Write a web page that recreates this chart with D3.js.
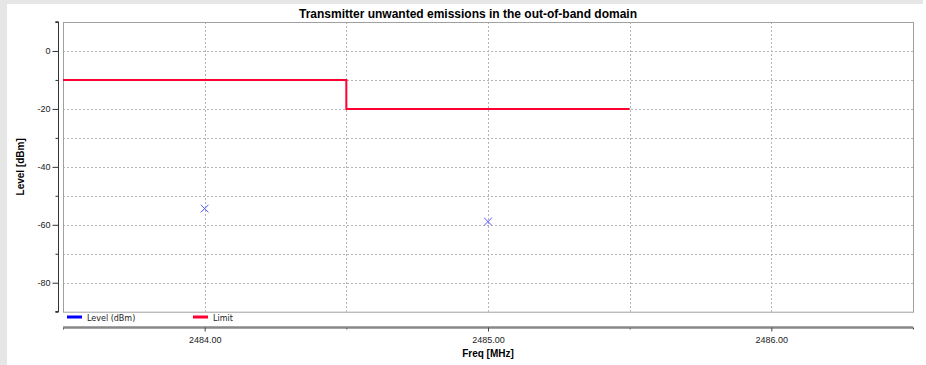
<!DOCTYPE html>
<html>
<head>
<meta charset="utf-8">
<script src="https://cdn.jsdelivr.net/npm/d3@7"></script>
<style>
  html, body { margin: 0; padding: 0; background: #fff; }
  svg { display: block; font-family: "Liberation Sans", Arial, sans-serif; }
</style>
</head>
<body>
<svg id="chart" width="926" height="365"></svg>
<script>
// Measured emission levels (dBm) at each frequency (MHz)
const levelFreqs = [2484.0, 2485.0];
const levelValues = [-54.4, -58.9];

// Limit mask: stepped line (frequency, level)
const limitFreqs = [2483.5, 2484.5, 2484.5, 2485.5];
const limitValues = [-10, -10, -20, -20];

// Axis ticks
const xMajorTicks = [2484, 2485, 2486];
const xMinorTicks = [2483.5, 2484.5, 2485.5, 2486.5];
const xGridTicks = [2484, 2484.5, 2485, 2485.5, 2486];
const yMajorTicks = [0, -20, -40, -60, -80];
const yMinorTicks = [10, -10, -30, -50, -70, -90];
const yGridTicks = [0, -10, -20, -30, -40, -50, -60, -70, -80];

const legendItems = [
  { label: "Level (dBm)", color: "#0000ff" },
  { label: "Limit", color: "#ff0033" }
];

const svg = d3.select("#chart");
const W = 926, H = 365;

// frame backdrop
svg.append("rect").attr("x", 0).attr("y", 0).attr("width", 7).attr("height", H).attr("fill", "#e6e6e6");
svg.append("rect").attr("x", 0).attr("y", 0).attr("width", 923).attr("height", 4).attr("fill", "#e6e6e6");

const plot = { left: 63, top: 22, right: 913, bottom: 311.7 };

const x = d3.scaleLinear().domain([2483.5, 2486.5]).range([plot.left, plot.right]);
const y = d3.scaleLinear().domain([10, -90]).range([plot.top, plot.bottom]);

// grid
const grid = svg.append("g").attr("stroke", "#b4b4b4").attr("stroke-width", 1).attr("stroke-dasharray", "2,2");
grid.selectAll("line.h").data(yGridTicks).join("line")
  .attr("class", "h")
  .attr("x1", plot.left).attr("x2", plot.right)
  .attr("y1", d => Math.round(y(d)) + 0.5).attr("y2", d => Math.round(y(d)) + 0.5);
grid.selectAll("line.v").data(xGridTicks).join("line")
  .attr("class", "v")
  .attr("y1", plot.top).attr("y2", plot.bottom)
  .attr("x1", d => Math.round(x(d)) + 0.5).attr("x2", d => Math.round(x(d)) + 0.5);

// plot border
svg.append("rect")
  .attr("x", plot.left + 0.5).attr("y", plot.top + 0.5)
  .attr("width", plot.right - plot.left).attr("height", plot.bottom - plot.top)
  .attr("fill", "none").attr("stroke", "#a0a0a0").attr("stroke-width", 1);

// limit line
const limitLine = d3.line().x(d => x(d[0])).y(d => y(d[1]));
svg.append("path")
  .datum(limitFreqs.map((f, i) => [f, limitValues[i]]))
  .attr("d", limitLine)
  .attr("fill", "none").attr("stroke", "#ff0033").attr("stroke-width", 2);

// level markers (x crosses)
const cross = d3.symbol().type(d3.symbolX).size(40);
svg.append("g").selectAll("path").data(levelFreqs.map((f, i) => [f, levelValues[i]])).join("path")
  .attr("d", cross)
  .attr("transform", d => `translate(${x(d[0])},${y(d[1])})`)
  .attr("fill", "none").attr("stroke", "#5555ff").attr("stroke-width", 1);

// y axis (plain hyphen for negative labels)
const yAxisX = 58.5;
const yAxisMajor = d3.axisLeft(y).tickValues(yMajorTicks).tickSize(6).tickPadding(2).tickFormat(d => String(d));
const yAxisMinor = d3.axisLeft(y).tickValues(yMinorTicks).tickSize(3).tickFormat("");
const gyMinor = svg.append("g").attr("transform", `translate(${yAxisX},0)`).call(yAxisMinor);
const gy = svg.append("g").attr("transform", `translate(${yAxisX},0)`).call(yAxisMajor);
[gy, gyMinor].forEach(g => {
  g.select(".domain").attr("stroke", "#333").attr("d", `M-3,${plot.top}H0V${plot.bottom}H-3`);
  g.selectAll(".tick line").attr("stroke", "#333");
});
gy.selectAll("text").attr("font-size", 9).attr("fill", "#222").attr("font-family", "Liberation Sans, Arial, sans-serif");

// x axis
const xAxisY = 327.5;
const xAxisMajor = d3.axisBottom(x).tickValues(xMajorTicks).tickSize(4).tickPadding(5).tickFormat(d => d.toFixed(2));
const xAxisMinor = d3.axisBottom(x).tickValues(xMinorTicks).tickSize(2).tickFormat("");
const gxMinor = svg.append("g").attr("transform", `translate(0,${xAxisY})`).call(xAxisMinor);
const gx = svg.append("g").attr("transform", `translate(0,${xAxisY})`).call(xAxisMajor);
[gx, gxMinor].forEach(g => {
  g.select(".domain").attr("stroke", "#888").attr("stroke-width", 2).attr("d", `M${plot.left},0H${plot.right}`);
  g.selectAll(".tick line").attr("stroke", "#444");
});
gx.selectAll("text").attr("font-size", 9).attr("fill", "#222").attr("font-family", "Liberation Sans, Arial, sans-serif");

// titles
svg.append("text")
  .attr("x", 468).attr("y", 18).attr("text-anchor", "middle")
  .attr("font-size", 12).attr("font-weight", "bold").attr("fill", "#000")
  .text("Transmitter unwanted emissions in the out-of-band domain");

svg.append("text")
  .attr("transform", `translate(24,${(plot.top + plot.bottom) / 2}) rotate(-90)`)
  .attr("text-anchor", "middle")
  .attr("font-size", 10).attr("font-weight", "bold").attr("fill", "#000")
  .text("Level [dBm]");

svg.append("text")
  .attr("x", x(2485)).attr("y", 357).attr("text-anchor", "middle")
  .attr("font-size", 10).attr("font-weight", "bold").attr("fill", "#000")
  .text("Freq [MHz]");

// legend
const legend = svg.append("g").attr("transform", "translate(67,317)");
legend.selectAll("g").data(legendItems).join("g")
  .attr("transform", (d, i) => `translate(${i * 126},0)`)
  .each(function(d) {
    const g = d3.select(this);
    g.append("rect").attr("x", 0).attr("y", -1.5).attr("width", 15).attr("height", 3).attr("fill", d.color);
    g.append("text").attr("x", 20).attr("y", 3.5)
      .attr("fill", "#222")
      .attr("font-family", "DejaVu Sans, sans-serif")
      .attr("font-size", 8)
      .text(d.label);
  });
</script>
</body>
</html>
